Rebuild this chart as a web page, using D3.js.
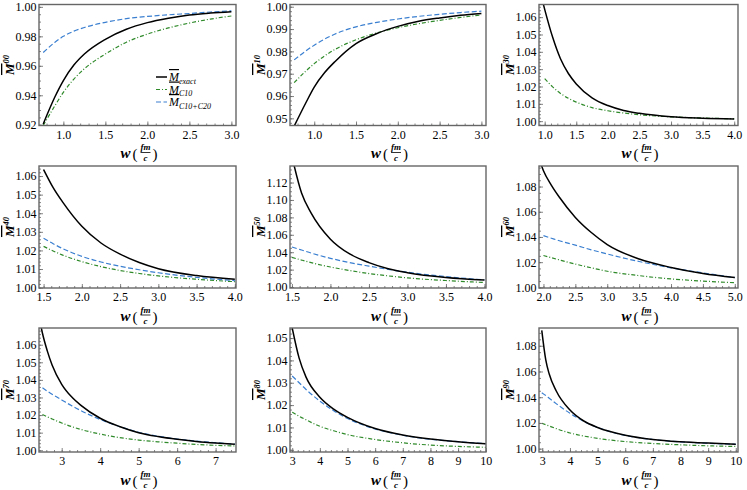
<!DOCTYPE html>
<html>
<head>
<meta charset="utf-8">
<script src="https://cdn.jsdelivr.net/npm/d3@7"></script>
<style>
  body { margin: 0; background: #fff; }
  text { font-family: "Liberation Serif", "DejaVu Serif", serif; }
</style>
</head>
<body>
<div id="chart"></div>
<script>

// ---- data ----
var names = ["00", "10", "30", "40", "50", "60", "70", "80", "90"];

var w00 = [0.76, 0.9, 1.0, 1.125, 1.25, 1.5, 1.75, 2.0, 2.25, 2.5, 2.75, 3.0];
var ex00 = [0.9205, 0.939, 0.950, 0.9605, 0.968, 0.978, 0.9848, 0.9893, 0.9923, 0.9945, 0.9958, 0.9967];
var c10_00 = [0.9195, 0.933, 0.942, 0.951, 0.958, 0.968, 0.976, 0.9815, 0.9857, 0.989, 0.9917, 0.9938];
var c20_00 = [0.969, 0.976, 0.980, 0.9835, 0.986, 0.9895, 0.992, 0.9935, 0.9946, 0.9955, 0.9965, 0.9973];

var w10 = [0.76, 0.9, 1.0, 1.125, 1.25, 1.5, 1.75, 2.0, 2.25, 2.5, 2.75, 3.0];
var ex10 = [0.9465, 0.957, 0.964, 0.9705, 0.9755, 0.9835, 0.988, 0.9912, 0.9935, 0.995, 0.9962, 0.997];
var c10_10 = [0.966, 0.9712, 0.9745, 0.978, 0.9809, 0.9852, 0.9883, 0.9906, 0.9924, 0.9939, 0.9952, 0.9963];
var c20_10 = [0.9762, 0.9802, 0.9828, 0.9855, 0.9878, 0.991, 0.993, 0.9945, 0.9957, 0.9966, 0.9974, 0.998];

var w30 = [0.95, 1.0, 1.125, 1.25, 1.375, 1.5, 1.75, 2.0, 2.25, 2.5, 3.0, 3.5, 4.0];
var ex30 = [1.0715, 1.0645, 1.0485, 1.036, 1.0275, 1.0215, 1.0135, 1.009, 1.0062, 1.0045, 1.0025, 1.0017, 1.0013];
var c10_30 = [null, 1.0245, 1.0198, 1.016, 1.0132, 1.011, 1.0078, 1.006, 1.0047, 1.0037, 1.0025, 1.0018, 1.0014];

var w40 = [1.5, 1.625, 1.75, 2.0, 2.25, 2.5, 2.75, 3.0, 3.5, 4.0];
var ex40 = [1.0635, 1.0538, 1.046, 1.033, 1.024, 1.018, 1.0135, 1.0102, 1.0065, 1.0045];
var c10_40 = [1.0222, 1.0197, 1.0175, 1.014, 1.0113, 1.0092, 1.0076, 1.0063, 1.0045, 1.0032];
var c20_40 = [1.0265, 1.0236, 1.021, 1.0168, 1.0138, 1.0115, 1.0096, 1.008, 1.0055, 1.0038];

var w50 = [1.5, 1.625, 1.75, 2.0, 2.25, 2.5, 2.75, 3.0, 3.5, 4.0];
var ex50 = [1.150, 1.108, 1.085, 1.055, 1.038, 1.028, 1.021, 1.0165, 1.011, 1.008];
var c10_50 = [1.034, 1.031, 1.028, 1.023, 1.019, 1.0155, 1.0128, 1.0105, 1.0075, 1.0052];
var c20_50 = [1.046, 1.0425, 1.039, 1.033, 1.028, 1.024, 1.0203, 1.017, 1.012, 1.0082];

var w60 = [1.97, 2.0, 2.125, 2.25, 2.5, 2.75, 3.0, 3.5, 4.0, 4.5, 5.0];
var ex60 = [1.0965, 1.0925, 1.081, 1.0715, 1.0555, 1.0435, 1.034, 1.0225, 1.0158, 1.011, 1.0078];
var c10_60 = [null, 1.0253, 1.0235, 1.0218, 1.0185, 1.0155, 1.0128, 1.0093, 1.0067, 1.005, 1.0037];
var c20_60 = [null, 1.041, 1.039, 1.037, 1.0335, 1.0298, 1.0265, 1.0205, 1.0155, 1.0115, 1.0078];

var w70 = [2.47, 2.5, 2.625, 2.75, 3.0, 3.25, 3.5, 4.0, 4.5, 5.0, 5.5, 6.0, 6.5, 7.0, 7.5];
var ex70 = [1.0695, 1.0665, 1.0565, 1.0485, 1.0375, 1.0305, 1.0255, 1.0182, 1.0135, 1.0100, 1.0078, 1.0062, 1.005, 1.0041, 1.0034];
var c10_70 = [null, 1.0203, 1.019, 1.0178, 1.0155, 1.0135, 1.0118, 1.0092, 1.0072, 1.0058, 1.0048, 1.004, 1.0033, 1.0028, 1.0024];
var c20_70 = [null, 1.0355, 1.0336, 1.0318, 1.0286, 1.0254, 1.0225, 1.0175, 1.0135, 1.0102, 1.008, 1.0064, 1.0052, 1.0043, 1.0035];

var w80 = [3.0, 3.25, 3.5, 4.0, 4.5, 5.0, 6.0, 7.0, 8.0, 9.0, 10.0];
var ex80 = [1.0545, 1.041, 1.0325, 1.0235, 1.0182, 1.0145, 1.0095, 1.0066, 1.0048, 1.0036, 1.0027];
var c10_80 = [1.0168, 1.015, 1.0134, 1.0105, 1.0085, 1.0068, 1.0046, 1.0031, 1.0021, 1.0015, 1.0011];
var c20_80 = [1.033, 1.030, 1.027, 1.0218, 1.0175, 1.014, 1.0093, 1.0065, 1.0047, 1.0036, 1.0027];

var w90 = [2.98, 3.125, 3.25, 3.5, 4.0, 4.5, 5.0, 6.0, 7.0, 8.0, 9.0, 10.0];
var ex90 = [1.092, 1.069, 1.058, 1.045, 1.030, 1.0215, 1.0165, 1.0105, 1.0072, 1.0054, 1.0043, 1.0035];
var c10_90 = [1.0198, 1.0186, 1.0176, 1.0156, 1.0122, 1.0098, 1.0080, 1.0055, 1.0040, 1.003, 1.0022, 1.0017];
var c20_90 = [1.0435, 1.0413, 1.0392, 1.035, 1.0275, 1.0212, 1.0165, 1.0103, 1.0071, 1.0053, 1.0042, 1.0034];

// axis ranges and tick labels
var xDomains = [[0.71, 3.055], [0.71, 3.055], [0.91, 4.06], [1.44, 4.015], [1.475, 4.02],
                [1.93, 5.05], [2.41, 7.53], [2.92, 10.01], [2.88, 10.08]];
var yDomains = [[0.9195, 1.0016], [0.9468, 1.001], [0.9975, 1.0673], [0.9998, 1.0654], [0.9989, 1.139],
                [0.9995, 1.0963], [0.999, 1.0695], [0.999, 1.0545], [0.9974, 1.0938]];
var xTicks = [[1.0, 1.5, 2.0, 2.5, 3.0], [1.0, 1.5, 2.0, 2.5, 3.0], [1.0, 1.5, 2.0, 2.5, 3.0, 3.5, 4.0],
              [1.5, 2.0, 2.5, 3.0, 3.5, 4.0], [1.5, 2.0, 2.5, 3.0, 3.5, 4.0],
              [2.0, 2.5, 3.0, 3.5, 4.0, 4.5, 5.0], [3, 4, 5, 6, 7], [3, 4, 5, 6, 7, 8, 9, 10], [3, 4, 5, 6, 7, 8, 9, 10]];
var yTicks = [[0.92, 0.94, 0.96, 0.98, 1.00], [0.95, 0.96, 0.97, 0.98, 0.99, 1.00],
              [1.00, 1.01, 1.02, 1.03, 1.04, 1.05, 1.06], [1.00, 1.01, 1.02, 1.03, 1.04, 1.05, 1.06],
              [1.00, 1.02, 1.04, 1.06, 1.08, 1.10, 1.12], [1.00, 1.02, 1.04, 1.06, 1.08],
              [1.00, 1.01, 1.02, 1.03, 1.04, 1.05, 1.06], [1.00, 1.01, 1.02, 1.03, 1.04, 1.05],
              [1.00, 1.02, 1.04, 1.06, 1.08]];

var legendLabels = ["exact", "C10", "C10+C20"];

// ---- layout ----
var width = 747, height = 490;
var cols = [[39, 236], [290, 486], [539, 738]];
var rows = [[4.5, 125.5], [166, 288], [328, 452]];
var serif = "'Liberation Serif', 'DejaVu Serif', serif";

var colors = { ex: "#000000", c10: "#2f8a2a", c20: "#3a7fd0" };
var dashes = { ex: null, c10: "4,2,1,2", c20: "5,2.5" };

var panels = [
  { w: w00, ex: ex00, c10: c10_00, c20: c20_00 },
  { w: w10, ex: ex10, c10: c10_10, c20: c20_10 },
  { w: w30, ex: ex30, c10: c10_30, c20: null },
  { w: w40, ex: ex40, c10: c10_40, c20: c20_40 },
  { w: w50, ex: ex50, c10: c10_50, c20: c20_50 },
  { w: w60, ex: ex60, c10: c10_60, c20: c20_60 },
  { w: w70, ex: ex70, c10: c10_70, c20: c20_70 },
  { w: w80, ex: ex80, c10: c10_80, c20: c20_80 },
  { w: w90, ex: ex90, c10: c10_90, c20: c20_90 }
];

var svg = d3.select("#chart")
  .append("svg")
    .attr("width", width)
    .attr("height", height);

function minorTicks(ticks, domain, step) {
  var lo = ticks[0] - 20 * step, hi = ticks[ticks.length - 1] + 20 * step;
  return d3.range(Math.round(lo / step), Math.round(hi / step) + 1)
    .map(function(k) { return +(k * step).toFixed(5); })
    .filter(function(v) { return v >= domain[0] && v <= domain[1]; });
}

panels.forEach(function(p, i) {
  var c = cols[i % 3], r = rows[Math.floor(i / 3)];
  var x = d3.scaleLinear().domain(xDomains[i]).range(c);
  var y = d3.scaleLinear().domain(yDomains[i]).range([r[1], r[0]]);
  var g = svg.append("g");

  g.append("clipPath").attr("id", "clip" + i)
    .append("rect")
      .attr("x", c[0]).attr("y", r[0])
      .attr("width", c[1] - c[0]).attr("height", r[1] - r[0]);

  // curves, green then blue then black
  ["c10", "c20", "ex"].forEach(function(key) {
    if (!p[key]) return;
    var pts = p.w.map(function(w, k) { return [w, p[key][k]]; })
      .filter(function(d) { return d[1] != null; });
    g.append("path")
      .datum(pts)
      .attr("clip-path", "url(#clip" + i + ")")
      .attr("fill", "none")
      .attr("stroke", colors[key])
      .attr("stroke-width", key == "ex" ? 1.5 : 1.2)
      .attr("stroke-dasharray", dashes[key])
      .attr("d", d3.line()
        .curve(d3.curveMonotoneX)
        .x(function(d) { return x(d[0]) })
        .y(function(d) { return y(d[1]) }));
  });

  // axes, ticks pointing inward
  var xt = xTicks[i], yt = yTicks[i];
  var xStep = xt[1] - xt[0] >= 1 ? 0.2 : 0.1;
  var yStep = Math.abs(yt[1] - yt[0] - 0.02) < 1e-6 ? 0.005 : 0.002;
  var xfmt = xStep == 0.2 ? d3.format("d") : d3.format(".1f");

  var xMinor = g.append("g").attr("transform", "translate(0," + r[1] + ")")
    .call(d3.axisBottom(x).tickValues(minorTicks(xt, xDomains[i], xStep)).tickSize(-2).tickFormat(""));
  var yMinor = g.append("g").attr("transform", "translate(" + c[0] + ",0)")
    .call(d3.axisLeft(y).tickValues(minorTicks(yt, yDomains[i], yStep)).tickSize(-2).tickFormat(""));
  var xAxis = g.append("g").attr("transform", "translate(0," + r[1] + ")")
    .call(d3.axisBottom(x).tickValues(xt).tickSize(-4).tickPadding(4.5).tickFormat(xfmt));
  var yAxis = g.append("g").attr("transform", "translate(" + c[0] + ",0)")
    .call(d3.axisLeft(y).tickValues(yt).tickSize(-4).tickPadding(2.5).tickFormat(d3.format(".2f")));

  [xMinor, yMinor, xAxis, yAxis].forEach(function(a) {
    a.attr("font-family", serif);
    a.select(".domain").remove();
    a.selectAll("line").attr("stroke", "#666").attr("stroke-width", 0.8);
    a.selectAll("text").attr("fill", "#000")
      .style("font-family", serif).style("font-size", "12px");
  });

  // frame
  g.append("rect")
    .attr("x", c[0]).attr("y", r[0])
    .attr("width", c[1] - c[0]).attr("height", r[1] - r[0])
    .attr("fill", "none").attr("stroke", "#666").attr("stroke-width", 1.4);

  // y label: M-bar with superscript
  var cy = (r[0] + r[1]) / 2;
  var yl = g.append("text")
    .attr("transform", "translate(" + (c[0] - 25) + "," + cy + ") rotate(-90)")
    .attr("text-anchor", "middle")
    .attr("font-weight", "bold").attr("font-style", "italic")
    .attr("font-size", 13);
  yl.append("tspan").text("M").style("text-decoration", "overline");
  yl.append("tspan").attr("font-size", 8.5).attr("dy", -5).text(names[i]);

  // x label: w (fm / c)
  var cx = (c[0] + c[1]) / 2, by = r[1] + 32.5;
  var xl = g.append("g").attr("font-weight", "bold").attr("font-style", "italic");
  xl.append("text").attr("x", cx - 17).attr("y", by).attr("font-size", 15).text("w");
  xl.append("text").attr("x", cx - 5).attr("y", by + 1).attr("font-size", 15)
    .attr("font-style", "normal").attr("font-weight", "normal").text("(");
  xl.append("text").attr("x", cx + 8).attr("y", by - 8).attr("font-size", 9)
    .attr("text-anchor", "middle").text("fm");
  xl.append("line").attr("x1", cx + 3).attr("x2", cx + 13)
    .attr("y1", by - 5.5).attr("y2", by - 5.5).attr("stroke", "#000").attr("stroke-width", 0.8);
  xl.append("text").attr("x", cx + 8).attr("y", by + 3).attr("font-size", 9)
    .attr("text-anchor", "middle").text("c");
  xl.append("text").attr("x", cx + 15).attr("y", by + 1).attr("font-size", 15)
    .attr("font-style", "normal").attr("font-weight", "normal").text(")");
});

// legend in the first panel
var legY = [77, 89.5, 102];
var legKeys = ["ex", "c10", "c20"];
legKeys.forEach(function(key, k) {
  svg.append("line")
    .attr("x1", 156).attr("x2", 167)
    .attr("y1", legY[k]).attr("y2", legY[k])
    .attr("stroke", colors[key])
    .attr("stroke-width", key == "ex" ? 1.5 : 1.2)
    .attr("stroke-dasharray", dashes[key]);
  var t = svg.append("text")
    .attr("x", 169).attr("y", legY[k] + 4)
    .attr("font-size", 12).attr("font-style", "italic");
  t.append("tspan").text("M").style("text-decoration", "overline");
  t.append("tspan").attr("font-size", 8).attr("dy", 2.5).text(legendLabels[k]);
});

</script>
</body>
</html>
